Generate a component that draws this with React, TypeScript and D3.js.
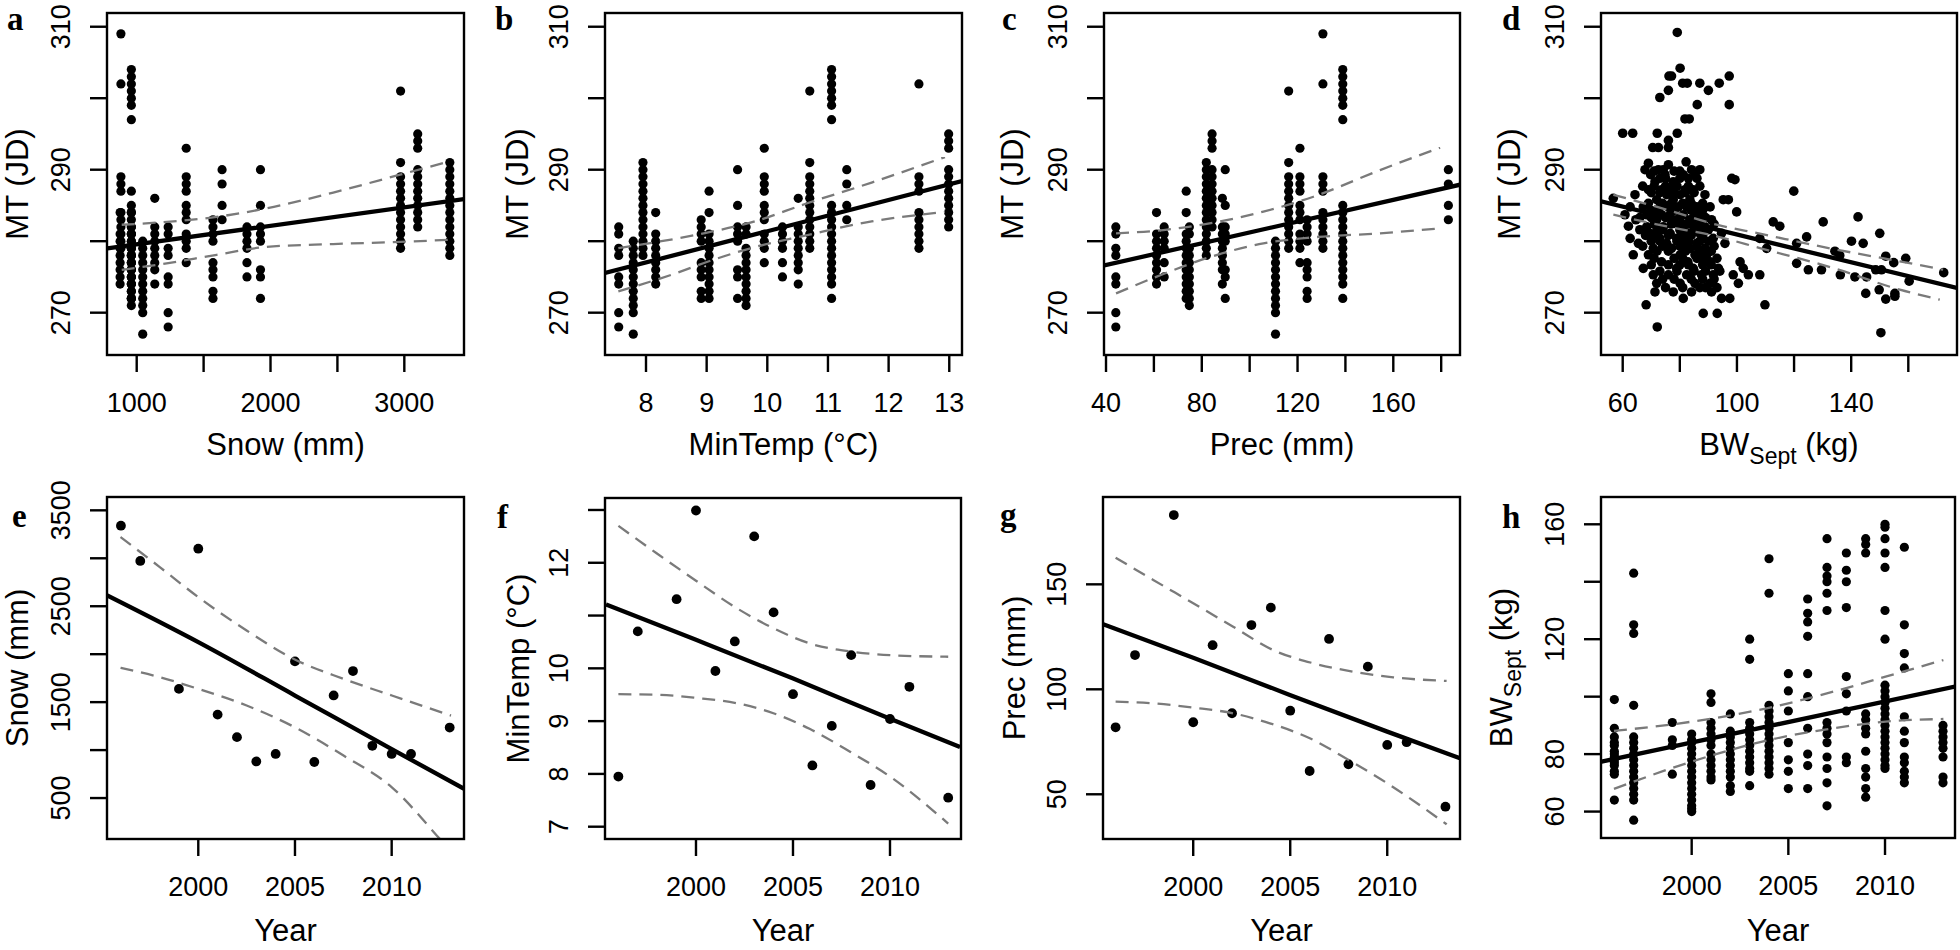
import React from "react";
import * as d3 from "d3";

// ---------- annual covariates (panels e, f, g) ----------
const years = [1996, 1997, 1999, 2000, 2001, 2002, 2003, 2004, 2005, 2006, 2007, 2008, 2009, 2010, 2011, 2013];
const snowByYear = [3340, 2972, 1638, 3100, 1370, 1135, 882, 960, 1925, 876, 1570, 1824, 1045, 960, 960, 1235];
const minTempByYear = [7.95, 10.7, 11.31, 12.99, 9.95, 10.51, 12.5, 11.06, 9.51, 8.16, 8.91, 10.25, 7.79, 9.04, 9.65, 7.55];
const precByYear = [81.9, 116.3, 183.0, 84.3, 121.0, 88.6, 130.6, 138.9, 89.8, 61.1, 124.0, 64.3, 110.8, 73.5, 74.8, 44.1];

// ---------- mating time (JD) of individuals, grouped by year (same order as years) ----------
const mtByYear: number[][] = [
  [291, 290, 289, 288, 287, 286, 285, 284, 283, 282, 281, 280, 279, 278],
  [301, 291, 289, 288, 287, 286, 285, 284, 283, 282, 281, 280, 279],
  [290, 288, 285, 283],
  [295, 294, 293, 290, 289, 288, 287, 286, 285, 284, 283, 282],
  [293, 289, 288, 287, 285, 284, 283, 281, 280, 279, 277],
  [286, 282, 281, 280, 279, 278, 277, 276, 274],
  [302, 289, 288, 287, 284, 283, 282, 281, 280, 279],
  [304, 303, 302, 301, 300, 299, 297, 285, 284, 283, 282, 281, 280, 279, 278, 277, 276, 275, 274, 272],
  [290, 285, 282, 281, 280, 276, 275, 272],
  [284, 281, 280, 279, 278, 277, 276, 275, 274],
  [283, 282, 281, 280, 277, 276, 275, 273, 272],
  [282, 281, 280, 279, 277, 275],
  [280, 279, 278, 277, 276, 275, 274, 273, 272, 271, 270, 267],
  [287, 284, 281, 280, 279, 278, 277, 276, 275, 274, 273, 272],
  [282, 281, 279, 278, 277, 276, 275, 274, 273, 272, 271],
  [282, 281, 279, 278, 275, 274, 270, 268],
];
// observation shown against Snow and Prec but without a MinTemp record
const mtWithoutMinTemp = [{ year: 2003, mt: 309 }];

// ---------- September body weight (kg) by year (panel h) ----------
const bwByYear: number[][] = [
  [99, 89, 86, 84, 83, 81, 80, 79, 78, 77, 76, 74, 73, 64],
  [143, 125, 122, 97, 86, 84, 82, 80, 78, 76, 74, 72, 70, 68, 66, 64, 57],
  [91, 85, 83, 73],
  [87, 85, 84, 82, 80, 78, 76, 74, 72, 70, 68, 66, 64, 62, 61, 60],
  [101, 98, 91, 89, 87, 85, 83, 80, 78, 76, 74, 72, 71],
  [94, 88, 86, 84, 82, 80, 78, 76, 74, 72, 69, 67],
  [120, 113, 91, 89, 87, 85, 83, 81, 79, 77, 75, 74, 69],
  [148, 136, 97, 95, 93, 91, 89, 87, 85, 83, 81, 79, 77, 75, 73],
  [108, 102, 95, 84, 78, 74, 68],
  [134, 129, 126, 121, 108, 100, 89, 80, 76, 68],
  [155, 145, 142, 140, 136, 130, 91, 89, 87, 84, 79, 75, 70, 62],
  [150, 144, 140, 131, 107, 101, 95, 79, 77],
  [155, 153, 150, 94, 92, 89, 87, 81, 75, 72, 68, 65],
  [160, 159, 155, 150, 145, 130, 120, 104, 102, 100, 98, 96, 94, 92, 90, 88, 86, 84, 82, 80, 78, 76, 75],
  [152, 125, 115, 110, 93, 88, 84, 79, 77, 74, 72, 70],
  [90, 88, 86, 84, 82, 79, 72, 70],
];

// ---------- (BW_Sept, MT) pairs (panel d) ----------
const bwMtPairs: [number, number][] = [
  [79.1, 309.2], [80.1, 304.2], [76.2, 303.1], [77.1, 303.1], [81.0, 302.1], [82.6, 302.1], [87.0, 302.1],
  [90.0, 301.1], [93.8, 302.1], [97.3, 303.1], [76.0, 301.1], [73.0, 300.1], [86.1, 299.1], [97.3, 299.1],
  [81.8, 297.1], [83.3, 297.1], [60.0, 295.1], [56.7, 286.0], [60.8, 283.7], [62.0, 282.1],
  [130.2, 282.7], [142.4, 283.4], [124.4, 280.6], [125.0, 276.0], [129.6, 276.0], [134.3, 278.6], [136.0, 278.0],
  [136.2, 275.3], [140.1, 280.0], [144.2, 279.7], [141.3, 275.0], [145.4, 275.0], [145.1, 272.7], [150.0, 281.1],
  [152.1, 277.9], [154.9, 277.0], [159.1, 277.6], [148.6, 276.0], [150.6, 276.0], [160.3, 274.4], [149.8, 273.2],
  [152.1, 271.9], [155.3, 272.7], [155.3, 272.3], [150.4, 267.2], [172.4, 275.6], [72.1, 268.0],
  [63.5, 295.1], [72.1, 295.1], [79.1, 295.1], [76.0, 294.1], [70.5, 293.1], [72.5, 293.1], [76.0, 293.1],
  [69.0, 290.9], [76.0, 290.7], [82.2, 291.1], [67.8, 290.0], [72.5, 290.0], [74.2, 290.0], [84.1, 290.0], [87.0, 290.0],
  [69.8, 289.3], [74.8, 289.3], [81.2, 289.3], [85.3, 289.3], [98.2, 288.8], [99.3, 288.6], [71.3, 288.3], [77.7, 288.3],
  [69.0, 287.2], [73.6, 287.2], [76.6, 287.2], [81.8, 287.2], [84.7, 287.2], [119.9, 287.0],
  [64.3, 286.5], [75.4, 286.5], [80.1, 286.5], [88.8, 286.5], [71.9, 285.8], [77.7, 285.8], [83.5, 285.8], [95.2, 285.8], [97.0, 285.8],
  [62.6, 284.8], [67.2, 284.8], [73.0, 284.8], [75.9, 284.8], [79.5, 284.8], [82.4, 284.8], [85.9, 284.8], [90.6, 284.8],
  [99.9, 284.1], [68.4, 283.7], [73.6, 283.7], [76.6, 283.7], [81.2, 283.7], [86.5, 283.7],
  [64.6, 283.0], [71.9, 283.0], [78.9, 283.0], [83.5, 283.0], [91.1, 283.0], [112.7, 282.7], [115.0, 282.1],
  [68.4, 282.0], [74.2, 282.0], [81.2, 282.0], [85.9, 282.0], [88.8, 282.0],
  [69.5, 281.1], [76.6, 281.1], [82.8, 281.1], [87.0, 281.1], [94.6, 281.1],
  [62.6, 280.4], [73.0, 280.4], [78.9, 280.4], [91.7, 280.4], [108.0, 280.4],
  [65.5, 279.7], [75.4, 279.7], [81.2, 279.7], [85.9, 279.7], [95.8, 279.7], [120.9, 279.7],
  [70.7, 279.0], [77.1, 279.0], [83.5, 279.0], [88.8, 279.0], [110.4, 279.0],
  [63.7, 278.1], [69.0, 278.1], [80.1, 278.1], [85.3, 278.1], [89.4, 278.1],
  [73.6, 277.1], [82.8, 277.1], [90.6, 277.1], [101.1, 277.1], [120.9, 276.9],
  [67.2, 276.2], [78.9, 276.2], [84.7, 276.2], [93.5, 276.2], [102.2, 276.2],
  [70.7, 275.3], [76.0, 275.3], [82.4, 275.3], [87.6, 275.3], [91.7, 275.3], [98.7, 275.3], [104.0, 275.3], [108.0, 275.3],
  [71.9, 274.1], [80.1, 274.1], [85.3, 274.1], [90.6, 274.1], [100.5, 274.1],
  [71.3, 272.9], [77.7, 272.9], [84.1, 272.9], [91.1, 272.9],
  [81.2, 272.0], [94.6, 272.0], [97.5, 272.0], [68.2, 271.1], [109.8, 271.1], [88.2, 269.9], [93.1, 269.9],
  // overlapping points inside the dense core of the cloud
  [71, 289.8], [78, 289.8], [80, 289.8],
  [73, 288.8], [75, 288.8], [80, 288.8], [83, 288.8], [86, 288.8],
  [67, 287.7], [71, 287.7], [75, 287.7], [79, 287.7], [83, 287.7], [87, 287.7],
  [70, 286.8], [73, 286.8], [78, 286.8], [82, 286.8], [85, 286.8],
  [69, 285.3], [74, 285.3], [77, 285.3], [81, 285.3], [84, 285.3], [88, 285.3],
  [70, 284.3], [72, 284.3], [78, 284.3], [84, 284.3], [88, 284.3],
  [66, 283.3], [70, 283.3], [75, 283.3], [80, 283.3], [85, 283.3], [89, 283.3],
  [71, 282.4], [77, 282.4], [79, 282.4], [83, 282.4], [87, 282.4], [92, 282.4],
  [66, 281.6], [72, 281.6], [74, 281.6], [80, 281.6], [85, 281.6], [90, 281.6],
  [68, 280.8], [71, 280.8], [76, 280.8], [81, 280.8], [84, 280.8], [88, 280.8],
  [70, 280.0], [73, 280.0], [79, 280.0], [83, 280.0], [87, 280.0], [90, 280.0],
  [67, 279.3], [74, 279.3], [80, 279.3], [86, 279.3], [92, 279.3],
  [72, 278.6], [76, 278.6], [82, 278.6], [87, 278.6], [91, 278.6],
  [71, 277.6], [78, 277.6], [81, 277.6], [86, 277.6], [88, 277.6], [93, 277.6],
  [70, 276.7], [76, 276.7], [80, 276.7], [83, 276.7], [88, 276.7], [91, 276.7],
  [73, 275.8], [79, 275.8], [85, 275.8], [89, 275.8], [94, 275.8],
  [74, 274.7], [78, 274.7], [84, 274.7], [88, 274.7], [92, 274.7],
  [75, 273.5], [81, 273.5], [87, 273.5], [89, 273.5], [93, 273.5],
];

// ---------- fitted lines and 95% confidence limits ----------
const fitA = [[781, 279.0], [3446, 285.9]];
const upperA = [[888, 282.3], [1224, 282.7], [1598, 283.4], [1971, 284.6], [2469, 286.8], [2968, 289.3], [3346, 291.2]];
const lowerA = [[888, 276.0], [1224, 276.9], [1598, 278.1], [1971, 279.2], [2469, 279.6], [2968, 279.9], [3346, 280.2]];

const fitB = [[7.324, 275.55], [13.21, 288.4]];
const upperB = [[7.544, 279.04], [8.973, 281.14], [9.797, 282.77], [10.621, 285.2], [11.72, 288.2], [12.929, 291.77]];
const lowerB = [[7.544, 272.98], [8.423, 275.31], [9.082, 277.32], [9.797, 279.18], [10.621, 280.77], [11.72, 282.77], [12.929, 284.08]];

const fitC = [[39.2, 276.6], [187.9, 287.9]];
const upperC = [[44.18, 281.1], [63.96, 281.56], [84.85, 282.59], [105.74, 284.13], [126.63, 286.22], [154.48, 289.95], [179.55, 293.08]];
const lowerC = [[44.18, 272.7], [63.96, 275.41], [84.85, 277.93], [105.74, 279.7], [126.63, 280.54], [154.48, 281.1], [179.55, 281.8]];

const fitD = [[52.4, 285.57], [177.0, 273.45]];
const upperD = [[56.73, 286.5], [75.39, 284.41], [92.89, 282.31], [108.05, 281.05], [133.7, 278.91], [157.03, 277.18], [172.19, 276.01]];
const lowerD = [[56.73, 283.71], [75.39, 282.07], [92.89, 280.68], [108.05, 279.04], [133.7, 276.25], [157.03, 273.22], [171.02, 271.82]];

const fitE = [[1995.29, 2613], [2000, 2126], [2005, 1569], [2010, 1010], [2013.76, 595]];
const upperE = [[1995.98, 3222], [1998.01, 2908], [2000, 2595], [2002.5, 2247], [2004.99, 1945], [2007.51, 1743], [2010.01, 1569], [2013.07, 1360]];
const lowerE = [[1995.98, 1858], [1998.01, 1760], [2000, 1638], [2002.5, 1465], [2004.99, 1238], [2007.51, 943], [2010.01, 612], [2012.34, 108], [2013.07, -60]];

const fitF = [[1995.36, 11.21], [2000, 10.54], [2004.98, 9.81], [2009.97, 9.05], [2013.61, 8.51]];
const upperF = [[1996, 12.7], [1997.97, 12.18], [2000, 11.66], [2002.1, 11.14], [2003.99, 10.76], [2005.88, 10.47], [2007.94, 10.32], [2010, 10.25], [2013, 10.22]];
const lowerF = [[1996, 9.51], [1997.97, 9.5], [2000, 9.44], [2002.1, 9.34], [2003.99, 9.15], [2005.88, 8.85], [2007.94, 8.42], [2010, 7.95], [2013, 7.06]];

const fitG = [[1995.36, 130.95], [2000, 115.08], [2004.98, 97.3], [2010, 79.84], [2013.75, 67.14]];
const upperG = [[1996, 162.7], [1997.94, 152.1], [2000, 141.0], [2002.06, 129.8], [2004.12, 118.7], [2006.19, 112.4], [2008.25, 108.4], [2010.31, 105.7], [2013.06, 104.0]];
const lowerG = [[1996, 94.13], [1997.94, 93.33], [2000, 91.27], [2002.06, 88.57], [2003.95, 83.81], [2006.01, 76.67], [2008.01, 66.35], [2010, 55.24], [2013.06, 35.71]];

const fitH = [[1995.34, 77.39], [2013.62, 103.48]];
const upperH = [[1995.98, 88.06], [2000, 91.3], [2003.88, 95.94], [2007.33, 101.74], [2010.03, 106.96], [2013.02, 112.75]];
const lowerH = [[1995.98, 67.88], [2000, 77.39], [2004.02, 84.93], [2007.33, 88.99], [2010.03, 91.3], [2013.02, 92.23]];

// ---------- ticks ----------
const mtTicks = [270, 280, 290, 300, 310];
const mtTickLabels = [270, 290, 310];
const snowTicks = [1000, 1500, 2000, 2500, 3000];
const snowTickLabels = [1000, 2000, 3000];
const tempTicks = [8, 9, 10, 11, 12, 13];
const precTicks = [40, 60, 80, 100, 120, 140, 160, 180];
const precTickLabels = [40, 80, 120, 160];
const bwTicks = [60, 80, 100, 120, 140, 160];
const bwXTickLabels = [60, 100, 140];
const bwYTickLabels = [60, 80, 120, 160];
const yearTicks = [2000, 2005, 2010];
const snowYTicks = [500, 1000, 1500, 2000, 2500, 3000, 3500];
const snowYTickLabels = [500, 1500, 2500, 3500];
const tempYTicks = [7, 8, 9, 10, 11, 12, 13];
const tempYTickLabels = [7, 8, 9, 10, 12];
const precYTicks = [50, 100, 150];

const SANS = "'Liberation Sans', Arial, Helvetica, sans-serif";
const SERIF = "'Liberation Serif', 'Times New Roman', serif";

const byYear = (cov: number[]) =>
  years.flatMap((_, i) => mtByYear[i].map((mt) => [cov[i], mt]));
const extraMT = (cov: number[]) =>
  mtWithoutMinTemp.map((o) => [cov[years.indexOf(o.year)], o.mt]);

const bwSept = (
  <>
    BW<tspan fontSize={23} dy={9}>Sept</tspan>
    <tspan dy={-9}> (kg)</tspan>
  </>
);

type Cfg = any;

function Panel({ cfg }: { cfg: Cfg }) {
  const { id, box, xDomain, yDomain, xTicks, xLabels, yTicks, yLabels, points, r, fit, upper, lower, xTitle, yTitle, letter, letterPos, xTitleDy, yTitleDx } = cfg;
  const xs = d3.scaleLinear().domain(xDomain).range([box.x, box.x + box.w]);
  const ys = d3.scaleLinear().domain(yDomain).range([box.y + box.h, box.y]);
  const line = d3
    .line<number[]>()
    .x((d) => xs(d[0]))
    .y((d) => ys(d[1]))
    .curve(d3.curveMonotoneX);
  const bottom = box.y + box.h;
  const tl = 17;
  return (
    <g>
      <defs>
        <clipPath id={`clip-${id}`}>
          <rect x={box.x} y={box.y} width={box.w} height={box.h} />
        </clipPath>
      </defs>
      <g clipPath={`url(#clip-${id})`}>
        {points.map((p: number[], i: number) => (
          <circle key={i} cx={xs(p[0])} cy={ys(p[1])} r={r} fill="#000" />
        ))}
        <path d={line(upper) || ""} fill="none" stroke="#7a7a7a" strokeWidth={2.3} strokeDasharray="13,8" />
        <path d={line(lower) || ""} fill="none" stroke="#7a7a7a" strokeWidth={2.3} strokeDasharray="13,8" />
        <path d={line(fit) || ""} fill="none" stroke="#000" strokeWidth={4.3} />
      </g>
      <rect x={box.x} y={box.y} width={box.w} height={box.h} fill="none" stroke="#000" strokeWidth={2.4} />
      {xTicks.map((t: number) => (
        <line key={`xt${t}`} x1={xs(t)} x2={xs(t)} y1={bottom} y2={bottom + tl} stroke="#000" strokeWidth={2.4} />
      ))}
      {yTicks.map((t: number) => (
        <line key={`yt${t}`} x1={box.x - tl} x2={box.x} y1={ys(t)} y2={ys(t)} stroke="#000" strokeWidth={2.4} />
      ))}
      {xLabels.map((t: number) => (
        <text key={`xl${t}`} x={xs(t)} y={bottom + 57} textAnchor="middle" fontSize={27} fontFamily={SANS}>
          {t}
        </text>
      ))}
      {yLabels.map((t: number) => (
        <text
          key={`yl${t}`}
          transform={`translate(${box.x - 46},${ys(t)}) rotate(-90)`}
          textAnchor="middle"
          dy="0.35em"
          fontSize={27}
          fontFamily={SANS}
        >
          {t}
        </text>
      ))}
      <text x={box.x + box.w / 2} y={bottom + xTitleDy} textAnchor="middle" fontSize={31} fontFamily={SANS}>
        {xTitle}
      </text>
      <text
        transform={`translate(${box.x - yTitleDx},${box.y + box.h / 2}) rotate(-90)`}
        textAnchor="middle"
        dy="0.35em"
        fontSize={31}
        fontFamily={SANS}
      >
        {yTitle}
      </text>
      <text x={letterPos[0]} y={letterPos[1]} fontSize={33} fontWeight="bold" fontFamily={SERIF}>
        {letter}
      </text>
    </g>
  );
}

const topY = 13;
const botY = 497;
const H = 342;
const mtDomain = [264.08, 311.92];

const panels: Cfg[] = [
  {
    id: "a", box: { x: 107, y: topY, w: 357, h: H }, xDomain: [778, 3446], yDomain: mtDomain,
    xTicks: snowTicks, xLabels: snowTickLabels, yTicks: mtTicks, yLabels: mtTickLabels,
    points: [...byYear(snowByYear), ...extraMT(snowByYear)], r: 4.6, fit: fitA, upper: upperA, lower: lowerA,
    xTitle: "Snow (mm)", yTitle: "MT (JD)", letter: "a", letterPos: [7, 30], xTitleDy: 100, yTitleDx: 90,
  },
  {
    id: "b", box: { x: 605, y: topY, w: 357, h: H }, xDomain: [7.324, 13.21], yDomain: mtDomain,
    xTicks: tempTicks, xLabels: tempTicks, yTicks: mtTicks, yLabels: mtTickLabels,
    points: byYear(minTempByYear), r: 4.6, fit: fitB, upper: upperB, lower: lowerB,
    xTitle: "MinTemp (°C)", yTitle: "MT (JD)", letter: "b", letterPos: [495, 30], xTitleDy: 100, yTitleDx: 88,
  },
  {
    id: "c", box: { x: 1104, y: topY, w: 356, h: H }, xDomain: [39.16, 187.86], yDomain: mtDomain,
    xTicks: precTicks, xLabels: precTickLabels, yTicks: mtTicks, yLabels: mtTickLabels,
    points: [...byYear(precByYear), ...extraMT(precByYear)], r: 4.6, fit: fitC, upper: upperC, lower: lowerC,
    xTitle: "Prec (mm)", yTitle: "MT (JD)", letter: "c", letterPos: [1002, 30], xTitleDy: 100, yTitleDx: 92,
  },
  {
    id: "d", box: { x: 1601, y: topY, w: 356, h: H }, xDomain: [52.4, 177.05], yDomain: mtDomain,
    xTicks: bwTicks, xLabels: bwXTickLabels, yTicks: mtTicks, yLabels: mtTickLabels,
    points: bwMtPairs, r: 4.8, fit: fitD, upper: upperD, lower: lowerD,
    xTitle: bwSept, yTitle: "MT (JD)", letter: "d", letterPos: [1502, 30], xTitleDy: 100, yTitleDx: 92,
  },
  {
    id: "e", box: { x: 107, y: botY, w: 357, h: H }, xDomain: [1995.28, 2013.74], yDomain: [73, 3639],
    xTicks: yearTicks, xLabels: yearTicks, yTicks: snowYTicks, yLabels: snowYTickLabels,
    points: years.map((y, i) => [y, snowByYear[i]]), r: 4.9, fit: fitE, upper: upperE, lower: lowerE,
    xTitle: "Year", yTitle: "Snow (mm)", letter: "e", letterPos: [12, 527], xTitleDy: 102, yTitleDx: 90,
  },
  {
    id: "f", box: { x: 605, y: botY + 1, w: 356, h: H - 1 }, xDomain: [1995.31, 2013.66], yDomain: [6.767, 13.227],
    xTicks: yearTicks, xLabels: yearTicks, yTicks: tempYTicks, yLabels: tempYTickLabels,
    points: years.map((y, i) => [y, minTempByYear[i]]), r: 4.9, fit: fitF, upper: upperF, lower: lowerF,
    xTitle: "Year", yTitle: "MinTemp (°C)", letter: "f", letterPos: [497, 528], xTitleDy: 102, yTitleDx: 87,
  },
  {
    id: "g", box: { x: 1103, y: botY, w: 357, h: H }, xDomain: [1995.35, 2013.75], yDomain: [28.7, 191.6],
    xTicks: yearTicks, xLabels: yearTicks, yTicks: precYTicks, yLabels: precYTicks,
    points: years.map((y, i) => [y, precByYear[i]]), r: 4.9, fit: fitG, upper: upperG, lower: lowerG,
    xTitle: "Year", yTitle: "Prec (mm)", letter: "g", letterPos: [1000, 526], xTitleDy: 102, yTitleDx: 89,
  },
  {
    id: "h", box: { x: 1601, y: botY, w: 354, h: H - 1 }, xDomain: [1995.31, 2013.62], yDomain: [50.8, 169.5],
    xTicks: yearTicks, xLabels: yearTicks, yTicks: bwTicks, yLabels: bwYTickLabels,
    points: years.flatMap((y, i) => bwByYear[i].map((bw) => [y, bw])), r: 4.6, fit: fitH, upper: upperH, lower: lowerH,
    xTitle: "Year", yTitle: bwSept, letter: "h", letterPos: [1502, 528], xTitleDy: 103, yTitleDx: 100,
  },
];

export default function App() {
  return (
    <svg
      width={1960}
      height={950}
      viewBox="0 0 1960 950"
      style={{ position: "absolute", left: 0, top: 0, background: "#fff", display: "block" }}
    >
      <rect x={0} y={0} width={1960} height={950} fill="#fff" />
      {panels.map((p) => (
        <Panel key={p.id} cfg={p} />
      ))}
    </svg>
  );
}
